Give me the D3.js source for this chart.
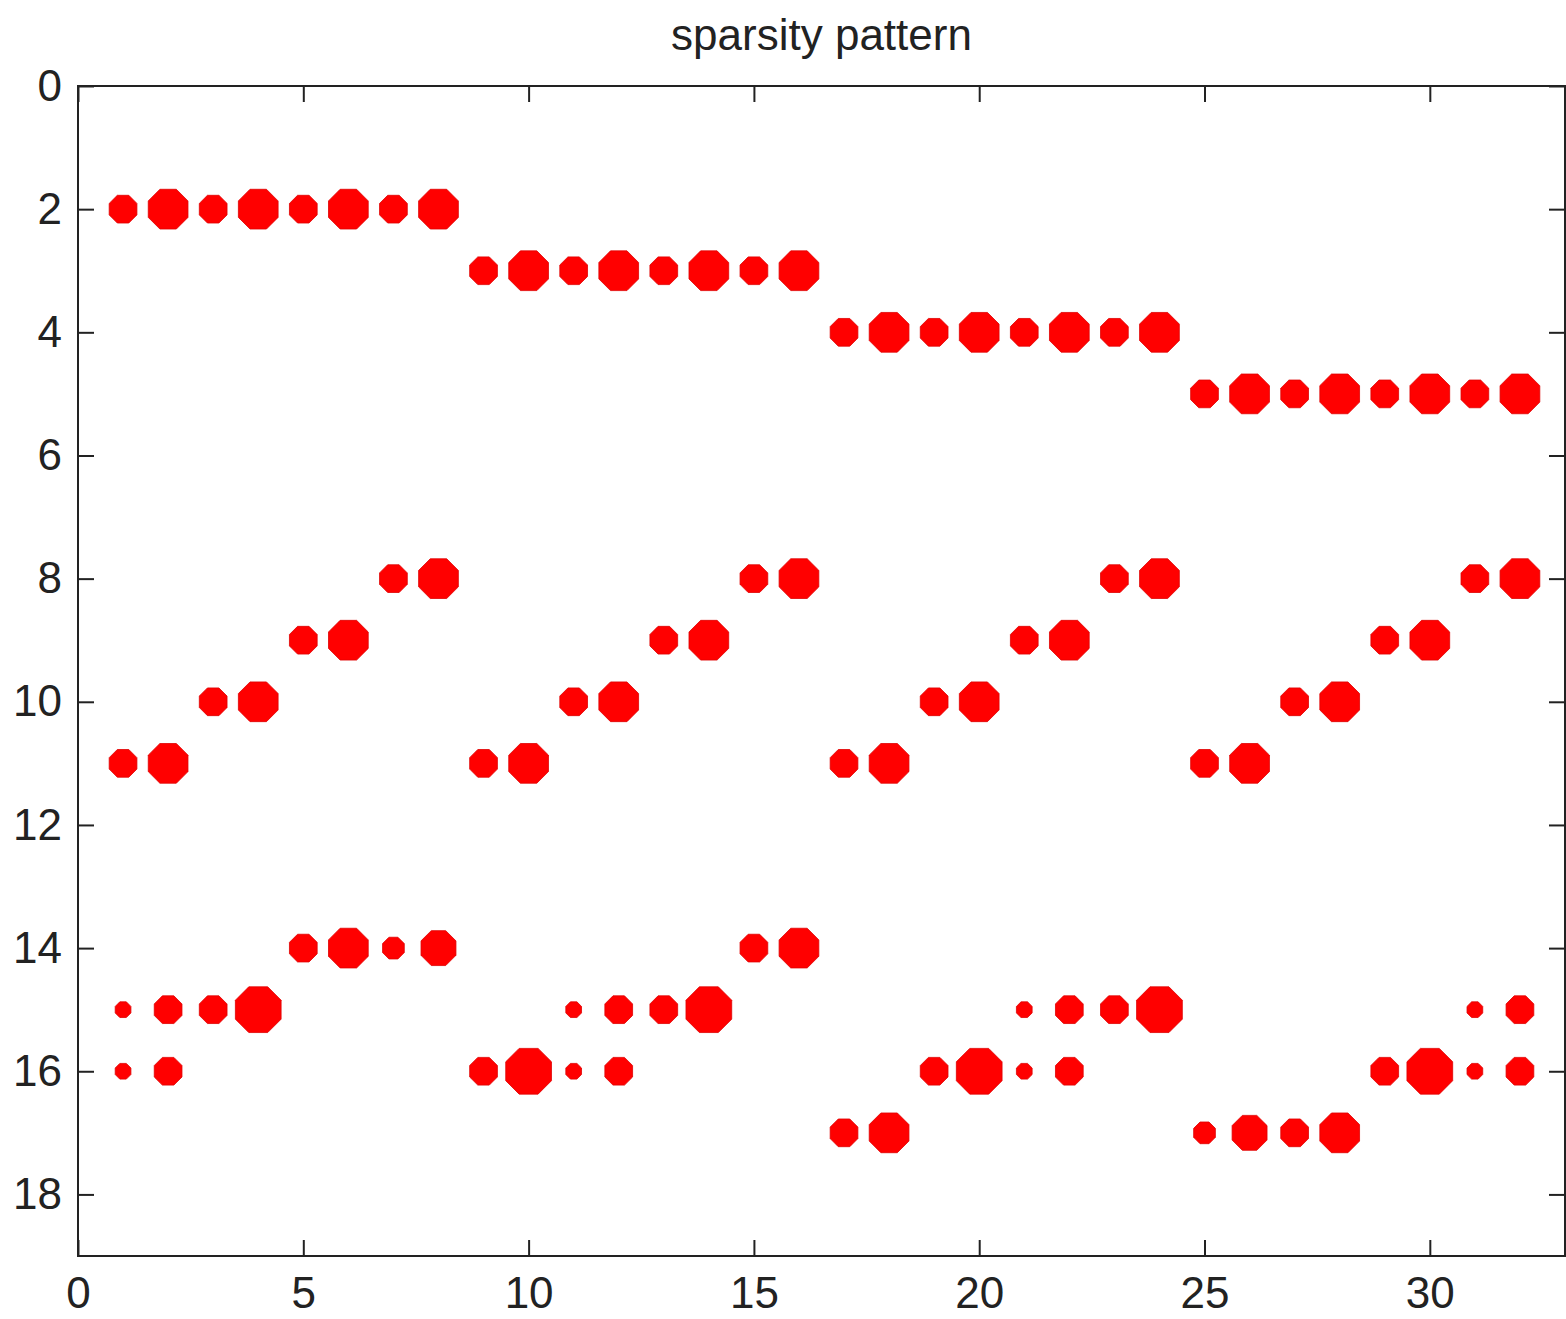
<!DOCTYPE html>
<html>
<head>
<meta charset="utf-8">
<script src="https://cdn.jsdelivr.net/npm/d3@7"></script>
<style>
  html, body { margin: 0; padding: 0; background: #fff; }
  svg { display: block; }
  .tick text { font-family: "Liberation Sans", Arial, sans-serif; font-size: 44px; fill: #222; }
  .title { font-family: "Liberation Sans", Arial, sans-serif; font-size: 44px; fill: #222; }
</style>
</head>
<body>
<svg id="chart" width="1566" height="1319"></svg>
<script>
// ---- data: nonzero entries (row, column, relative magnitude) ----
const rowIdx = [
  2,2,2,2,2,2,2,2,
  3,3,3,3,3,3,3,3,
  4,4,4,4,4,4,4,4,
  5,5,5,5,5,5,5,5,
  8,8,8,8,8,8,8,8,
  9,9,9,9,9,9,9,9,
  10,10,10,10,10,10,10,10,
  11,11,11,11,11,11,11,11,
  14,14,14,14,14,14,
  15,15,15,15,15,15,15,15,15,15,15,15,15,15,
  16,16,16,16,16,16,16,16,16,16,16,16,16,16,
  17,17,17,17,17,17
];
const colIdx = [
  1,2,3,4,5,6,7,8,
  9,10,11,12,13,14,15,16,
  17,18,19,20,21,22,23,24,
  25,26,27,28,29,30,31,32,
  7,8,15,16,23,24,31,32,
  5,6,13,14,21,22,29,30,
  3,4,11,12,19,20,27,28,
  1,2,9,10,17,18,25,26,
  5,6,7,8,15,16,
  1,2,3,4,11,12,13,14,21,22,23,24,31,32,
  1,2,9,10,11,12,19,20,21,22,29,30,31,32,
  17,18,25,26,27,28
];
const magnitude = [
  2,3,2,3,2,3,2,3,
  2,3,2,3,2,3,2,3,
  2,3,2,3,2,3,2,3,
  2,3,2,3,2,3,2,3,
  2,3,2,3,2,3,2,3,
  2,3,2,3,2,3,2,3,
  2,3,2,3,2,3,2,3,
  2,3,2,3,2,3,2,3,
  2,3,1.5,2.6,2,3,
  1,2,2,3.5,1,2,2,3.5,1,2,2,3.5,1,2,
  1,2,2,3.5,1,2,2,3.5,1,2,2,3.5,1,2,
  2,3,1.5,2.6,2,3
];
const xTicks = [0,5,10,15,20,25,30];
const yTicks = [0,2,4,6,8,10,12,14,16,18];
const xDomain = [0, 33];
const yDomain = [0, 19];
const titleText = "sparsity pattern";

// ---- layout ----
const L = 78, R = 1565, T = 86, B = 1256;
const svg = d3.select("#chart");
const x = d3.scaleLinear().domain(xDomain).range([L, R]);
const y = d3.scaleLinear().domain(yDomain).range([T, B]);
const diam = d3.scaleLinear().domain([1, 3]).range([17, 43]);

const data = rowIdx.map((r, i) => ({ r, c: colIdx[i], m: magnitude[i] }));

// octagon marker generator
const octAngles = d3.range(8).map(k => (k + 0.5) * Math.PI / 4);
function octagon(rad) {
  return d3.lineRadial().angle(a => a).radius(rad).curve(d3.curveLinearClosed)(octAngles);
}

svg.append("g")
  .selectAll("path")
  .data(data)
  .join("path")
  .attr("transform", d => `translate(${x(d.c)},${y(d.r)})`)
  .attr("d", d => octagon(diam(d.m) / 2))
  .attr("fill", "#ff0000")
  .attr("stroke", "#e00000")
  .attr("stroke-width", 0.8);

// ---- axes (inward ticks, box) ----
const tickLen = 16;
const axColor = "#222";
function styleAxis(g, hideLabels) {
  g.selectAll(".domain").remove();
  g.selectAll(".tick line").attr("stroke", axColor).attr("stroke-width", 2);
  if (hideLabels) g.selectAll(".tick text").remove();
}
svg.append("g").attr("transform", `translate(0,${B})`)
  .call(d3.axisBottom(x).tickValues(xTicks).tickSize(-tickLen).tickPadding(21).tickFormat(d3.format("d")))
  .call(g => styleAxis(g, false));
svg.append("g").attr("transform", `translate(0,${T})`)
  .call(d3.axisTop(x).tickValues(xTicks).tickSize(-tickLen))
  .call(g => styleAxis(g, true));
svg.append("g").attr("transform", `translate(${L},0)`)
  .call(d3.axisLeft(y).tickValues(yTicks).tickSize(-tickLen).tickPadding(16).tickFormat(d3.format("d")))
  .call(g => styleAxis(g, false));
svg.append("g").attr("transform", `translate(${R},0)`)
  .call(d3.axisRight(y).tickValues(yTicks).tickSize(-tickLen))
  .call(g => styleAxis(g, true));

svg.append("rect")
  .attr("x", L).attr("y", T).attr("width", R - L).attr("height", B - T)
  .attr("fill", "none").attr("stroke", axColor).attr("stroke-width", 2);

svg.selectAll(".tick text").attr("fill", axColor);

svg.append("text").attr("class", "title")
  .attr("x", (L + R) / 2).attr("y", 50)
  .attr("text-anchor", "middle")
  .text(titleText);
</script>
</body>
</html>
